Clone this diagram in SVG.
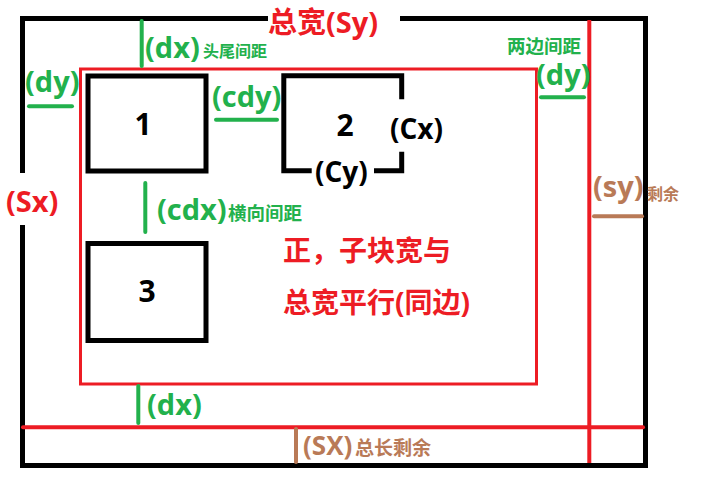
<svg xmlns="http://www.w3.org/2000/svg" width="720" height="480" viewBox="0 0 720 480">
<style>
text{font-family:"Open Sans","Noto Sans CJK SC",sans-serif;font-weight:bold}
.blk{fill:none;stroke:#000;stroke-width:5;stroke-linejoin:miter}
.red{fill:none;stroke:#ED1C24}
.gl{stroke:#22B14C;stroke-width:4;stroke-linecap:round}
.bl{stroke:#B97A57;stroke-width:4;stroke-linecap:round}
.tg{fill:#22B14C}
.tr{fill:#ED1C24}
.tb{fill:#B97A57}
.tk{fill:#000}
.big{font-size:29px}
.cjk{font-size:28px}
</style>
<rect width="720" height="480" fill="#fff"/>
<g id="outer">
<path class="blk" d="M268,18.5 H22.5 V173 M22.5,225 V465.5 H645.5 V18.5 H400"/>
<text class="tr big" x="268" y="33">总宽(Sy)</text>
<text class="tr big" x="6" y="212">(Sx)</text>
</g>
<g id="inner">
<rect class="red" x="80.5" y="69" width="456" height="315" stroke-width="3"/>
<text class="tr cjk" x="283" y="261">正，子块宽与</text>
<text class="tr cjk" x="283" y="313">总宽平行(同边)</text>
</g>
<g id="box1">
<rect class="blk" x="88" y="76" width="118" height="95"/>
<text class="tk" x="143" y="135" font-size="30" text-anchor="middle">1</text>
</g>
<g id="box2">
<path class="blk" d="M401.7,99.3 V75.8 H283.8 V170.8 H311.7 M374,170.8 H401.7 V151.7"/>
<text class="tk" x="345" y="136" font-size="30" text-anchor="middle">2</text>
<text class="tk" x="390" y="139" font-size="28">(Cx)</text>
<text class="tk" x="315" y="182" font-size="28">(Cy)</text>
</g>
<g id="box3">
<rect class="blk" x="88" y="243.5" width="118" height="97"/>
<text class="tk" x="147" y="302" font-size="30" text-anchor="middle">3</text>
</g>
<g id="connectors">
<line class="red" x1="589.3" y1="20" x2="589.3" y2="463" stroke-width="4"/>
<line class="red" x1="23" y1="427.3" x2="643" y2="427.3" stroke-width="4" stroke-linecap="round"/>
<line class="gl" x1="141.7" y1="21" x2="141.7" y2="66"/>
<line class="gl" x1="29" y1="106.3" x2="72" y2="106.3"/>
<line class="gl" x1="216" y1="119.7" x2="277" y2="119.7"/>
<line class="gl" x1="145.3" y1="183" x2="145.3" y2="232"/>
<line class="gl" x1="541" y1="97.3" x2="584" y2="97.3"/>
<line class="gl" x1="138.3" y1="386" x2="138.3" y2="423"/>
<line class="bl" x1="594" y1="216.3" x2="642" y2="216.3"/>
<line class="bl" x1="296" y1="429" x2="296" y2="462"/>
</g>
<g id="labels">
<text class="tg big" x="145" y="58">(dx)</text>
<text class="tg" x="203" y="57" font-size="16">头尾间距</text>
<text class="tg big" x="25" y="92">(dy)</text>
<text class="tg big" x="212" y="107">(cdy)</text>
<text class="tg big" x="157" y="220">(cdx)</text>
<text class="tg" x="228" y="220" font-size="18.5">横向间距</text>
<text class="tg" x="507" y="53" font-size="18.5">两边间距</text>
<text class="tg big" x="536" y="85">(dy)</text>
<text class="tb big" x="593" y="197">(sy)</text>
<text class="tb" x="647" y="200" font-size="16">剩余</text>
<text class="tg big" x="147" y="415">(dx)</text>
<text class="tb" x="303" y="455" font-size="26">(SX)</text>
<text class="tb" x="355" y="455" font-size="19">总长剩余</text>
</g>
</svg>
